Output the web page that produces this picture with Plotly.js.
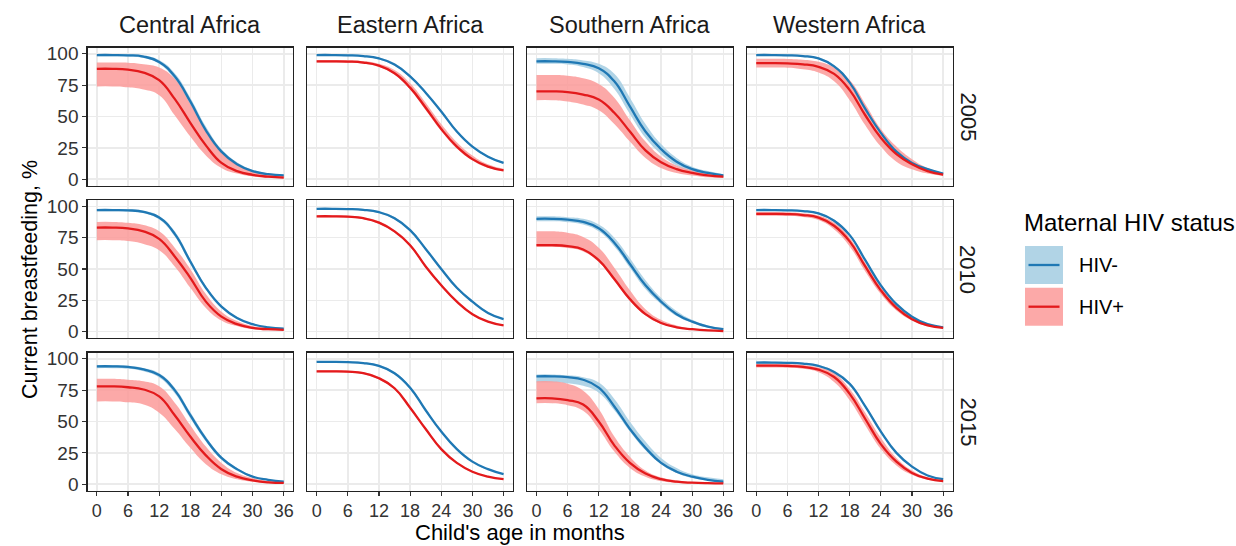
<!DOCTYPE html>
<html>
<head>
<meta charset="utf-8">
<script src="https://cdn.plot.ly/plotly-3.0.1.min.js"></script>
<style>html,body{margin:0;padding:0;background:#fff;}#chart{width:1236px;height:546px;}</style>
</head>
<body>
<div id="chart"></div>
<script>
// ---------- DATA ----------
const ages = [0, 3, 6, 9, 12, 15, 18, 21, 24, 27, 30, 33, 36];
const regions = ["Central Africa", "Eastern Africa", "Southern Africa", "Western Africa"];
const years = ["2005", "2010", "2015"];
const xTicks = [0, 6, 12, 18, 24, 30, 36];
const yTicks = [0, 25, 50, 75, 100];
const statusLabels = ["HIV-", "HIV+"];

// Central Africa
const central_2005_neg    = [99, 99, 98.8, 97.8, 93.5, 82, 62, 39, 22, 12, 6.5, 4, 3];
const central_2005_neg_lo = [98, 98, 97.7, 96.6, 92, 79.5, 59, 36.5, 20, 10.5, 5.5, 3.3, 2.4];
const central_2005_neg_hi = [99.5, 99.5, 99.4, 98.6, 95, 84.5, 65, 42, 24, 13.5, 7.5, 4.8, 3.6];
const central_2005_pos    = [88, 88, 87.3, 85, 79, 64, 45, 27, 13, 6.5, 3.5, 2, 1.3];
const central_2005_pos_lo = [74, 74, 73.3, 71.5, 67, 51, 34, 19, 9, 4.5, 2.2, 1.2, 0.8];
const central_2005_pos_hi = [93, 93, 92.8, 91.6, 89, 80, 60, 40, 23, 12, 7, 4.2, 2.8];

const central_2010_neg    = [97, 97, 96.8, 95.5, 91, 78, 56, 35, 20, 11, 6, 3.5, 2.5];
const central_2010_neg_lo = [96, 96, 95.8, 94.5, 89.5, 76, 54, 33.5, 19, 10.2, 5.5, 3.1, 2.1];
const central_2010_neg_hi = [97.8, 97.8, 97.6, 96.5, 92.3, 80, 58, 36.5, 21, 11.8, 6.5, 3.9, 2.9];
const central_2010_pos    = [83, 83, 82.3, 80, 74, 60, 43, 24, 12, 6, 3, 2, 1.5];
const central_2010_pos_lo = [73, 73, 72.3, 70, 65, 52, 35, 19, 9, 4.5, 2, 1.2, 1];
const central_2010_pos_hi = [87.5, 87.5, 86.8, 85, 80, 67, 50, 30, 16, 8.5, 4.5, 3, 2];

const central_2015_neg    = [94, 94, 93.5, 91.5, 87, 75, 55, 36, 21, 12, 6, 3.5, 2];
const central_2015_neg_lo = [92.5, 92.5, 92, 90, 85, 72.5, 52.5, 34, 19.5, 11, 5.5, 3, 1.7];
const central_2015_neg_hi = [95, 95, 94.5, 92.7, 88.5, 77, 57.5, 38, 22.5, 13, 6.8, 4, 2.4];
const central_2015_pos    = [78, 78, 77.3, 75.5, 70, 55, 38, 23, 12, 6, 3, 1.5, 1];
const central_2015_pos_lo = [66, 66, 65.3, 63.5, 57, 44, 29, 16, 8, 4, 2, 1, 0.5];
const central_2015_pos_hi = [84, 84, 83.3, 82, 78, 65, 47, 30, 17, 9, 5, 2.5, 1.5];

// Eastern Africa
const eastern_2005_neg    = [99, 99, 98.8, 98.2, 96.3, 91.5, 82, 69, 54, 38, 26, 18, 13];
const eastern_2005_neg_lo = [98.3, 98.3, 98.1, 97.5, 95.5, 90.5, 81, 68, 53, 37, 25.2, 17.3, 12.3];
const eastern_2005_neg_hi = [99.6, 99.6, 99.5, 98.9, 97.1, 92.5, 83, 70, 55, 39, 26.8, 18.7, 13.7];
const eastern_2005_pos    = [94, 94, 93.8, 93, 90.5, 84.5, 73, 57, 40, 26, 16, 10, 7];
const eastern_2005_pos_lo = [93, 93, 92.8, 92, 89.5, 83.5, 71.5, 55, 38.5, 24.5, 15, 9.2, 6.3];
const eastern_2005_pos_hi = [95, 95, 94.9, 94.2, 92, 87, 76.5, 61, 44, 29.5, 19, 12, 8.3];

const eastern_2010_neg    = [98, 98, 97.8, 97.2, 95.3, 90.5, 81, 66, 50, 35, 24, 15, 10];
const eastern_2010_neg_lo = [97.3, 97.3, 97.1, 96.5, 94.5, 89.5, 80, 65, 49, 34, 23.2, 14.4, 9.4];
const eastern_2010_neg_hi = [98.7, 98.7, 98.5, 97.9, 96.1, 91.5, 82, 67, 51, 36, 24.8, 15.6, 10.6];
const eastern_2010_pos    = [92, 92, 91.7, 90.5, 87, 80, 69, 52, 37, 24, 14, 8, 5];
const eastern_2010_pos_lo = [91.2, 91.2, 90.9, 89.7, 86, 79, 67.8, 51, 36, 23.2, 13.4, 7.5, 4.6];
const eastern_2010_pos_hi = [92.8, 92.8, 92.5, 91.3, 88, 81, 70.2, 53, 38, 24.8, 14.6, 8.5, 5.4];

const eastern_2015_neg    = [97.5, 97.5, 97.3, 96.6, 94.3, 88.5, 77, 59, 42, 28, 18, 12, 8];
const eastern_2015_neg_lo = [96.8, 96.8, 96.6, 95.9, 93.5, 87.5, 76, 58, 41, 27.2, 17.4, 11.5, 7.6];
const eastern_2015_neg_hi = [98.2, 98.2, 98, 97.3, 95.1, 89.5, 78, 60, 43, 28.8, 18.6, 12.5, 8.4];
const eastern_2015_pos    = [90, 90, 89.7, 88.5, 84.5, 76.5, 61, 44, 28, 17, 10, 6, 4];
const eastern_2015_pos_lo = [89.2, 89.2, 88.9, 87.7, 83.5, 75.5, 60, 43, 27.2, 16.4, 9.5, 5.6, 3.7];
const eastern_2015_pos_hi = [90.8, 90.8, 90.5, 89.3, 85.5, 77.5, 62, 45, 28.8, 17.6, 10.5, 6.4, 4.3];

// Southern Africa
const southern_2005_neg    = [94, 94, 93.5, 92, 88.5, 78, 58, 38, 24, 14, 8, 5, 3];
const southern_2005_neg_lo = [92, 92, 91.5, 89.5, 84.5, 72, 52, 33, 20, 11, 6, 3.5, 2];
const southern_2005_neg_hi = [96.5, 96.5, 96, 94.7, 92, 84, 65, 44, 28, 17, 10, 6.5, 4];
const southern_2005_pos    = [70, 70, 69.5, 67.5, 63.5, 53, 38, 23, 13.5, 8, 5, 3, 2];
const southern_2005_pos_lo = [63, 63, 62, 59.5, 55, 44, 30, 17, 9, 5, 3, 1.5, 1];
const southern_2005_pos_hi = [83, 83, 82.5, 80.5, 76, 65, 47, 30, 18, 11, 7, 4, 2.5];

const southern_2010_neg    = [90, 90, 89.3, 87.5, 82.5, 71, 54, 37, 24, 14, 8, 4, 2];
const southern_2010_neg_lo = [88, 88, 87.3, 85.5, 80, 68, 51, 34, 22, 12.5, 7, 3.3, 1.6];
const southern_2010_neg_hi = [92, 92, 91.3, 90, 85.5, 75, 58.5, 41, 27, 16.5, 9.5, 5, 2.7];
const southern_2010_pos    = [69, 69, 68.2, 65.5, 57, 42, 26, 14, 7, 3.5, 2, 1, 0.5];
const southern_2010_pos_lo = [67.5, 67.5, 66.7, 64, 55.5, 40.5, 25, 13, 6.3, 3, 1.6, 0.8, 0.4];
const southern_2010_pos_hi = [80, 80, 78.8, 75.5, 67, 51, 33, 18, 9.5, 5, 2.5, 1.5, 1];

const southern_2015_neg    = [86, 86, 85.3, 83.3, 77, 62, 44, 29, 17, 10, 6, 3.5, 2];
const southern_2015_neg_lo = [81, 81, 80.3, 78.5, 73, 59, 42, 27, 16, 9, 5, 3, 1.5];
const southern_2015_neg_hi = [87.5, 87.5, 86.8, 85.3, 81, 68, 50, 34, 21, 13, 8, 5.5, 4];
const southern_2015_pos    = [68.5, 68.5, 67, 63.5, 50, 31, 17, 8.5, 4, 2, 1.2, 0.8, 0.6];
const southern_2015_pos_lo = [64.5, 64.5, 63, 58.5, 44, 26, 13, 6, 2.5, 1, 0.5, 0.4, 0.3];
const southern_2015_pos_hi = [82, 82, 80, 74.5, 60, 38, 22, 11, 5.5, 3, 1.8, 1.2, 1];

// Western Africa
const western_2005_neg    = [99, 99, 98.8, 98.2, 96.3, 90, 77, 56, 37, 22, 13, 8, 4.5];
const western_2005_neg_lo = [98.3, 98.3, 98.1, 97.5, 95.5, 89, 76, 55, 36, 21.3, 12.4, 7.5, 4.1];
const western_2005_neg_hi = [99.6, 99.6, 99.5, 98.9, 97.1, 91, 78, 57, 38, 22.7, 13.6, 8.5, 4.9];
const western_2005_pos    = [92.5, 92.5, 92.3, 91.6, 89.6, 84, 71, 51, 33, 20, 12, 6.5, 3.7];
const western_2005_pos_lo = [89, 89, 88.8, 87.6, 85, 78, 63, 43, 26, 14, 8, 4.5, 2.5];
const western_2005_pos_hi = [96, 96, 95.9, 95.3, 93.6, 89, 79, 60, 40, 26, 16, 9, 5];

const western_2010_neg    = [97, 97, 96.8, 96.2, 94.3, 88.5, 77, 57, 37, 22, 12, 6, 3.5];
const western_2010_neg_lo = [96.3, 96.3, 96.1, 95.5, 93.5, 87.5, 76, 56, 36, 21.3, 11.5, 5.6, 3.2];
const western_2010_neg_hi = [97.7, 97.7, 97.5, 96.9, 95.1, 89.5, 78, 58, 38, 22.7, 12.5, 6.4, 3.8];
const western_2010_pos    = [94, 94, 93.8, 93, 91, 84.5, 72, 52, 33, 19, 10, 5, 3];
const western_2010_pos_lo = [92.5, 92.5, 92.3, 91.5, 89, 81.5, 68, 48, 30, 17, 9, 4.5, 2.5];
const western_2010_pos_hi = [95.5, 95.5, 95.3, 94.5, 92.7, 87, 75, 55, 36, 21.5, 11.5, 6, 3.5];

const western_2015_neg    = [97, 97, 96.8, 96.2, 94.3, 89.5, 80, 62, 42, 25, 14, 7, 4];
const western_2015_neg_lo = [96.3, 96.3, 96.1, 95.5, 93.5, 88.5, 79, 61, 41, 24.3, 13.5, 6.6, 3.6];
const western_2015_neg_hi = [97.7, 97.7, 97.5, 96.9, 95.1, 90.5, 81, 63, 43, 25.7, 14.5, 7.4, 4.4];
const western_2015_pos    = [94.5, 94.5, 94.3, 93.5, 91.3, 85.5, 72, 52, 32, 18, 9, 4.5, 2.5];
const western_2015_pos_lo = [93, 93, 92.8, 92, 89.3, 81.5, 67, 47, 28, 15, 7.5, 3.5, 2];
const western_2015_pos_hi = [96, 96, 95.8, 95, 93, 88.5, 76, 57, 37, 21, 11, 5.5, 3];

// ---------- TABLE (built from the arrays above) ----------
const panels = [
  [[central_2005_neg, central_2005_neg_lo, central_2005_neg_hi, central_2005_pos, central_2005_pos_lo, central_2005_pos_hi],
   [eastern_2005_neg, eastern_2005_neg_lo, eastern_2005_neg_hi, eastern_2005_pos, eastern_2005_pos_lo, eastern_2005_pos_hi],
   [southern_2005_neg, southern_2005_neg_lo, southern_2005_neg_hi, southern_2005_pos, southern_2005_pos_lo, southern_2005_pos_hi],
   [western_2005_neg, western_2005_neg_lo, western_2005_neg_hi, western_2005_pos, western_2005_pos_lo, western_2005_pos_hi]],
  [[central_2010_neg, central_2010_neg_lo, central_2010_neg_hi, central_2010_pos, central_2010_pos_lo, central_2010_pos_hi],
   [eastern_2010_neg, eastern_2010_neg_lo, eastern_2010_neg_hi, eastern_2010_pos, eastern_2010_pos_lo, eastern_2010_pos_hi],
   [southern_2010_neg, southern_2010_neg_lo, southern_2010_neg_hi, southern_2010_pos, southern_2010_pos_lo, southern_2010_pos_hi],
   [western_2010_neg, western_2010_neg_lo, western_2010_neg_hi, western_2010_pos, western_2010_pos_lo, western_2010_pos_hi]],
  [[central_2015_neg, central_2015_neg_lo, central_2015_neg_hi, central_2015_pos, central_2015_pos_lo, central_2015_pos_hi],
   [eastern_2015_neg, eastern_2015_neg_lo, eastern_2015_neg_hi, eastern_2015_pos, eastern_2015_pos_lo, eastern_2015_pos_hi],
   [southern_2015_neg, southern_2015_neg_lo, southern_2015_neg_hi, southern_2015_pos, southern_2015_pos_lo, southern_2015_pos_hi],
   [western_2015_neg, western_2015_neg_lo, western_2015_neg_hi, western_2015_pos, western_2015_pos_lo, western_2015_pos_hi]]
];

// ---------- STYLE ----------
const W = 1236, H = 546;
const FONT = "Liberation Sans, Arial, sans-serif";
const blueLine = "#1F78B4", blueFill = "rgba(166,206,227,0.88)";
const redLine = "#E31A1C", redFill = "rgba(251,154,153,0.85)";
const colLeft = [87.5, 307.3, 527.1, 746.9];
const panelW = 205.6;
const rowTop = [47.5, 200, 352.5];
const panelH = 138;
const SM = 1.3;
const px = v => v / W;
const py = v => 1 - v / H;

const traces = [];
const layout = {
  width: W, height: H,
  margin: {l: 0, r: 0, t: 0, b: 0},
  paper_bgcolor: "#ffffff",
  plot_bgcolor: "#ffffff",
  showlegend: false,
  font: {family: FONT, color: "#000"},
  annotations: [],
  shapes: []
};

for (let r = 0; r < 3; r++) {
  for (let c = 0; c < 4; c++) {
    const k = r * 4 + c + 1;
    const xa = "x" + k, ya = "y" + k;
    const [neg, negLo, negHi, pos, posLo, posHi] = panels[r][c];
    const common = {x: ages, xaxis: xa, yaxis: ya, mode: "lines", hoverinfo: "skip"};
    traces.push(Object.assign({}, common, {y: negLo, line: {width: 0, shape: "spline", smoothing: SM, color: blueFill}}));
    traces.push(Object.assign({}, common, {y: negHi, fill: "tonexty", fillcolor: blueFill, line: {width: 0, shape: "spline", smoothing: SM, color: blueFill}}));
    traces.push(Object.assign({}, common, {y: posLo, line: {width: 0, shape: "spline", smoothing: SM, color: redFill}}));
    traces.push(Object.assign({}, common, {y: posHi, fill: "tonexty", fillcolor: redFill, line: {width: 0, shape: "spline", smoothing: SM, color: redFill}}));
    traces.push(Object.assign({}, common, {y: neg, name: statusLabels[0], line: {width: 2.3, shape: "spline", smoothing: SM, color: blueLine}}));
    traces.push(Object.assign({}, common, {y: pos, name: statusLabels[1], line: {width: 2.3, shape: "spline", smoothing: SM, color: redLine}}));

    const suffix = k === 1 ? "" : k;
    layout["xaxis" + suffix] = {
      domain: [px(colLeft[c]), px(colLeft[c] + panelW)],
      anchor: ya,
      range: [-1.8, 37.8],
      tickvals: xTicks,
      ticktext: xTicks.map(String),
      showticklabels: r === 2,
      ticks: r === 2 ? "outside" : "",
      ticklen: 4, tickwidth: 1.2, tickcolor: "#333",
      tickfont: {family: FONT, size: 18, color: "#333"},
      showgrid: true, gridcolor: "#EBEBEB", gridwidth: 1.5,
      zeroline: false,
      showline: true, mirror: true, linecolor: "#222", linewidth: 1.2,
      fixedrange: true
    };
    layout["yaxis" + suffix] = {
      domain: [py(rowTop[r] + panelH), py(rowTop[r])],
      anchor: xa,
      range: [-5, 105],
      tickvals: yTicks,
      ticktext: yTicks.map(String),
      showticklabels: c === 0,
      ticks: c === 0 ? "outside" : "",
      ticklen: 4, tickwidth: 1.2, tickcolor: "#333",
      tickfont: {family: FONT, size: 19, color: "#333"},
      showgrid: true, gridcolor: "#EBEBEB", gridwidth: 1.5,
      zeroline: false,
      showline: true, mirror: true, linecolor: "#222", linewidth: 1.2,
      fixedrange: true
    };
  }
}

regions.forEach((name, c) => {
  layout.annotations.push({
    text: name, xref: "paper", yref: "paper",
    x: px(colLeft[c] + panelW / 2), y: py(25),
    xanchor: "center", yanchor: "middle", showarrow: false,
    font: {family: FONT, size: 23.5, color: "#1a1a1a"}
  });
});
years.forEach((yr, r) => {
  layout.annotations.push({
    text: yr, xref: "paper", yref: "paper",
    x: px(968), y: py(rowTop[r] + panelH / 2),
    xanchor: "center", yanchor: "middle", showarrow: false, textangle: 90,
    font: {family: FONT, size: 22, color: "#1a1a1a"}
  });
});
layout.annotations.push({
  text: "Child's age in months", xref: "paper", yref: "paper",
  x: px(520), y: 0, xanchor: "center", yanchor: "bottom", showarrow: false,
  borderpad: 0,
  font: {family: FONT, size: 22, color: "#000"}
});
layout.annotations.push({
  text: "Current breastfeeding, %", xref: "paper", yref: "paper",
  x: px(30), y: py(280), xanchor: "center", yanchor: "middle", showarrow: false, textangle: -90,
  font: {family: FONT, size: 21.5, color: "#000"}
});
layout.annotations.push({
  text: "Maternal HIV status", xref: "paper", yref: "paper",
  x: px(1022), y: py(222), xanchor: "left", yanchor: "middle", showarrow: false,
  font: {family: FONT, size: 24, color: "#000"}
});
const keyTops = [246, 287.7];
const keyFills = [blueFill, redFill];
const keyLines = [blueLine, redLine];
statusLabels.forEach((lab, i) => {
  layout.shapes.push({
    type: "rect", xref: "paper", yref: "paper",
    x0: px(1025), x1: px(1063), y0: py(keyTops[i] + 38), y1: py(keyTops[i]),
    fillcolor: keyFills[i], line: {width: 0}
  });
  layout.shapes.push({
    type: "line", xref: "paper", yref: "paper",
    x0: px(1028.5), x1: px(1059.5), y0: py(keyTops[i] + 19), y1: py(keyTops[i] + 19),
    line: {color: keyLines[i], width: 2.3}
  });
  layout.annotations.push({
    text: lab, xref: "paper", yref: "paper",
    x: px(1077), y: py(keyTops[i] + 19), xanchor: "left", yanchor: "middle", showarrow: false,
    font: {family: FONT, size: 20, color: "#000"}
  });
});

Plotly.newPlot("chart", traces, layout, {displayModeBar: false, staticPlot: true});
</script>
</body>
</html>
